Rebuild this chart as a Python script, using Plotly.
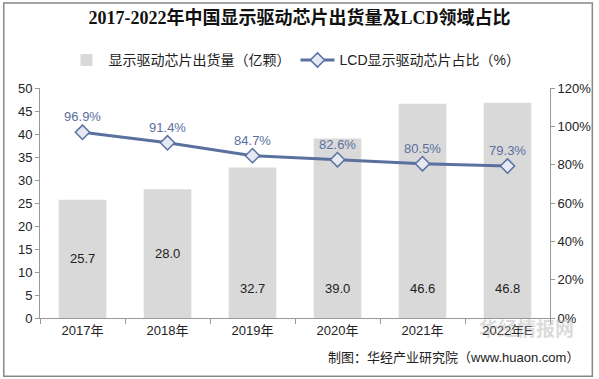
import plotly.graph_objects as go

years = ["2017年", "2018年", "2019年", "2020年", "2021年", "2022年E"]
shipments = [25.7, 28.0, 32.7, 39.0, 46.6, 46.8]
lcd_share = [96.9, 91.4, 84.7, 82.6, 80.5, 79.3]
label_y = [12.85, 14.0, 6.5, 6.5, 6.5, 6.5]

bar_name = "显示驱动芯片出货量（亿颗）"
line_name = "LCD显示驱动芯片占比（%）"
line_color = "#5A71A0"

fig = go.Figure()
fig.add_trace(go.Bar(
    x=years, y=shipments, name=bar_name,
    marker=dict(color="#D9D9D9", line=dict(width=0)),
    width=0.56, yaxis="y",
))
fig.add_trace(go.Scatter(
    x=years, y=[v / 100 for v in lcd_share], name=line_name, yaxis="y2",
    mode="lines+markers+text",
    line=dict(color=line_color, width=3),
    marker=dict(symbol="diamond", size=11, color="#E4E9F2",
                line=dict(color=line_color, width=1.5)),
    text=[f"{v:.1f}%" for v in lcd_share], textposition="top center",
    textfont=dict(color=line_color, size=13, family="Arial, Liberation Sans"),
    cliponaxis=False,
))

for yr, v, ly in zip(years, shipments, label_y):
    fig.add_annotation(x=yr, y=ly, text=f"{v:.1f}", showarrow=False,
                       xref="x", yref="y",
                       font=dict(size=13, color="#222", family="Arial, Liberation Sans"))

fig.add_annotation(xref="paper", yref="paper", x=1.06, y=-0.17,
                   text="制图：华经产业研究院（www.huaon.com）", showarrow=False,
                   xanchor="right", yanchor="middle",
                   font=dict(size=13, color="#222", family="Liberation Sans, Noto Sans CJK SC"))
fig.add_annotation(xref="paper", yref="paper", x=1.05, y=-0.04,
                   text="<b>华经情报网</b>", showarrow=False,
                   xanchor="right", yanchor="middle", opacity=0.4,
                   font=dict(size=19, color="#A8A8A8", family="Noto Sans CJK SC"))

fig.update_layout(
    width=599, height=379,
    margin=dict(l=40, r=49, t=88, b=61, autoexpand=False),
    paper_bgcolor="white", plot_bgcolor="white",
    title=dict(text="<b>2017-2022年中国显示驱动芯片出货量及LCD领域占比</b>",
               x=0.5, xanchor="center", y=0.952, yanchor="middle",
               font=dict(size=18, color="#111", family="Liberation Serif, Noto Sans CJK SC")),
    legend=dict(orientation="h", x=0.5, xanchor="center", y=1.12, yanchor="middle",
                font=dict(size=14, color="#222", family="Liberation Sans, Noto Sans CJK SC"),
                itemwidth=34, traceorder="normal", bgcolor="rgba(0,0,0,0)"),
    showlegend=True,
    bargap=0.44,
    xaxis=dict(showline=True, linecolor="#999", linewidth=1, ticks="outside",
               tickson="boundaries", ticklen=5, tickcolor="#999",
               tickfont=dict(size=13, color="#222", family="Arial, Liberation Sans, Noto Sans CJK SC"),
               showgrid=False),
    yaxis=dict(range=[0, 50], dtick=5, showline=True, linecolor="#999", linewidth=1,
               ticks="outside", ticklen=4, tickcolor="#999", showgrid=False,
               tickfont=dict(size=13, color="#222", family="Arial, Liberation Sans"),
               zeroline=False),
    yaxis2=dict(range=[0, 1.2], dtick=0.2, tickformat=".0%", overlaying="y", side="right",
                showline=True, linecolor="#999", linewidth=1, ticks="outside", ticklen=4,
                tickcolor="#999", showgrid=False, zeroline=False,
                tickfont=dict(size=13, color="#222", family="Arial, Liberation Sans")),
    shapes=[dict(type="rect", xref="paper", yref="paper", x0=-0.071, x1=1.083,
                 y0=-0.253, y1=1.37, line=dict(color="#888", width=1.5))],
)

fig.write_html("out.html", config={"displayModeBar": False},
               post_script="document.body.style.margin='0';document.body.style.padding='0';")
